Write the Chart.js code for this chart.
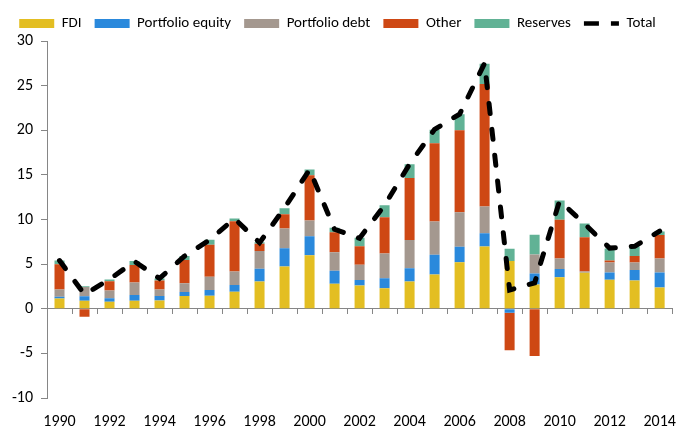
<!DOCTYPE html>
<html>
<head>
<meta charset="utf-8">
<script src="https://cdn.jsdelivr.net/npm/chart.js"></script>
<style>
  html, body { margin: 0; padding: 0; background: #fff; }
  #wrap { width: 682px; height: 430px; }
</style>
</head>
<body>
<div id="wrap"><canvas id="c" width="682" height="430"></canvas></div>
<script>
// chart data
const years = ['1990','1991','1992','1993','1994','1995','1996','1997','1998','1999','2000','2001','2002',
  '2003','2004','2005','2006','2007','2008','2009','2010','2011','2012','2013','2014'];
const fdi        = [1.15,0.9,0.78,0.9,0.93,1.42,1.46,1.9,3.06,4.74,6.0,2.8,2.61,2.31,3.06,3.84,5.22,6.98,5.34,2.72,3.54,4.03,3.25,3.17,2.39];
const portEquity = [0.2,0.5,0.4,0.63,0.49,0.45,0.63,0.75,1.42,2.05,2.13,1.45,0.6,1.12,1.49,2.2,1.72,1.49,-0.45,1.24,0.9,0,0.82,1.16,1.68];
const portDebt   = [0.8,1.05,0.86,1.42,0.74,1.0,1.49,1.53,1.98,2.2,1.76,2.09,1.72,2.76,3.14,3.74,3.88,2.99,0,2.12,1.19,0.15,1.12,0.86,1.56];
const other      = [2.85,-0.9,1.05,1.94,1.01,2.58,3.58,5.63,0.82,1.6,5.07,2.24,2.08,4.07,6.97,8.76,9.18,13.73,-4.21,-5.3,4.33,3.84,0.22,0.71,2.62];
const reserves   = [0.4,0.07,0.18,0.45,0.23,0.45,0.56,0.3,0.18,0.67,0.64,0.49,0.94,1.34,1.53,1.53,1.8,2.27,1.38,2.2,2.17,1.53,1.34,1.08,0.41];
const total      = [5.4,1.6,3.3,5.3,3.4,5.9,7.7,10.1,7.4,11.3,15.6,8.9,7.9,11.6,16.2,20.1,21.8,27.5,2.1,2.9,12.1,9.5,6.8,7.0,8.7];
const yTicks     = [-10,-5,0,5,10,15,20,25,30];

const axisGrey = '#868686';
const fontFam = 'Carlito, Lato, sans-serif';

function bar(label, data, color) {
  return { type: 'bar', label, data, backgroundColor: color, borderWidth: 0,
           barPercentage: 0.4, categoryPercentage: 1.0, xAxisID: 'x', yAxisID: 'y', order: 1 };
}

new Chart(document.getElementById('c'), {
  data: {
    labels: years,
    datasets: [
      bar('FDI', fdi, '#E3BE22'),
      bar('Portfolio equity', portEquity, '#2A89DC'),
      bar('Portfolio debt', portDebt, '#A4988F'),
      bar('Other', other, '#CE4814'),
      bar('Reserves', reserves, '#61B295'),
      {
        type: 'line', label: 'Total', data: total, stack: 'total',
        borderColor: '#000', borderWidth: 5, borderDash: [10, 16], borderCapStyle: 'round',
        pointRadius: 0, fill: false, tension: 0, order: -1, xAxisID: 'x', yAxisID: 'y'
      }
    ]
  },
  options: {
    responsive: false,
    animation: false,
    layout: { padding: { left: 0, right: 7, top: 3, bottom: 0 } },
    plugins: {
      tooltip: { enabled: false },
      legend: {
        position: 'top',
        labels: {
          usePointStyle: true,
          pointStyleWidth: 35,
          boxHeight: 9,
          padding: 13,
          color: '#000',
          font: { family: fontFam, size: 15 },
          generateLabels(chart) {
            const items = Chart.defaults.plugins.legend.labels.generateLabels(chart);
            items.sort((a, b) => a.datasetIndex - b.datasetIndex);
            items.forEach(it => {
              if (it.text === 'Total') {
                it.pointStyle = 'line';
                it.lineWidth = 4.5;
                it.lineDash = [15, 12];
                it.strokeStyle = '#000';
                it.lineCap = 'butt';
              } else {
                it.pointStyle = 'rect';
                it.lineWidth = 0;
              }
            });
            return items;
          }
        }
      }
    },
    scales: {
      x: {
        type: 'category',
        stacked: true,
        offset: true,
        position: { y: 0 },
        ticks: { display: false },
        grid: { offset: true, drawOnChartArea: false, drawTicks: true, tickLength: 5, color: axisGrey },
        border: { display: true, color: axisGrey, width: 1 }
      },
      x2: {
        type: 'category',
        offset: true,
        position: 'bottom',
        grid: { display: false },
        border: { display: false },
        afterFit(scale) { scale.height = 32; },
        ticks: {
          autoSkip: false,
          maxRotation: 0,
          padding: 6,
          color: '#000',
          font: { family: fontFam, size: 16 },
          callback(v, i) { return i % 2 === 0 ? years[i] : ''; }
        }
      },
      y: {
        stacked: true,
        min: -10,
        max: 30,
        afterBuildTicks(scale) { scale.ticks = yTicks.map(v => ({ value: v })); },
        afterFit(scale) { scale.width = 47; },
        ticks: { color: '#000', padding: 8, font: { family: fontFam, size: 16 } },
        grid: { drawOnChartArea: false, drawTicks: true, tickLength: 6, color: axisGrey },
        border: { display: true, color: axisGrey, width: 1 }
      }
    }
  }
});
</script>
</body>
</html>
